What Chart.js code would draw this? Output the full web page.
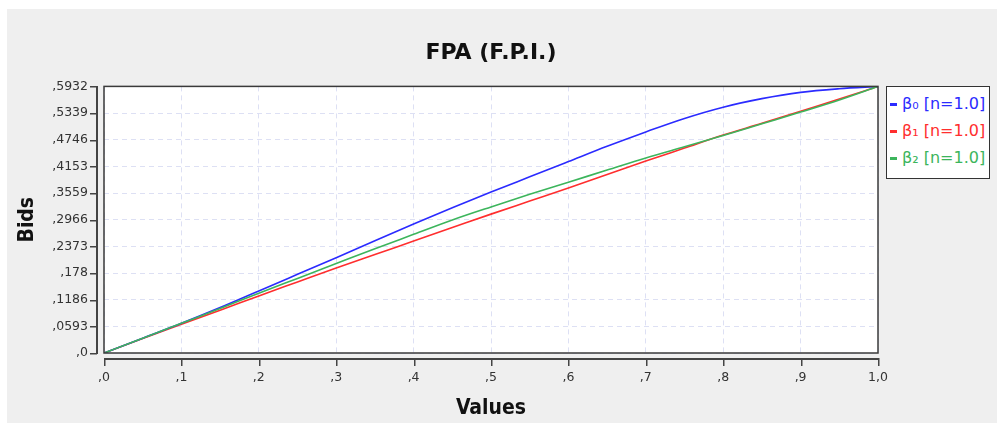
<!DOCTYPE html>
<html>
<head>
<meta charset="utf-8">
<title>FPA (F.P.I.)</title>
<script src="https://cdn.jsdelivr.net/npm/chart.js@4.4.1/dist/chart.umd.min.js"></script>
<style>
  html, body { margin: 0; padding: 0; background: #fff; }
  #wrap { position: relative; width: 997px; height: 423px; overflow: hidden; }
  #bg { position: absolute; left: 7px; top: 9px; right: 0; bottom: 0; background: #efefef; }
  #chart { position: absolute; left: 0; top: 0; }
  #legend {
    position: absolute; left: 886px; top: 86px; width: 102px; height: 88px;
    background: #fff; border: 1.5px solid #333; padding-top: 3px; box-sizing: content-box;
    font-family: "DejaVu Sans", sans-serif; font-size: 16px;
  }
  #legend .item { height: 27px; line-height: 27px; white-space: nowrap; padding-left: 3px; }
  #legend .dash { display: inline-block; width: 7px; height: 3px; vertical-align: middle; margin-right: 5px; }
</style>
</head>
<body>
<div id="wrap">
  <div id="bg"></div>
  <canvas id="chart" width="997" height="423"></canvas>
  <div id="legend"></div>
</div>
<script>
// ---- data ----
const xValues = [0, 0.05, 0.1, 0.15, 0.2, 0.25, 0.3, 0.35, 0.4, 0.45, 0.5,
                 0.55, 0.6, 0.65, 0.7, 0.75, 0.8, 0.85, 0.9, 0.95, 1.0];

const beta0 = [0, 0.033, 0.066, 0.101, 0.138, 0.175, 0.212, 0.25, 0.287, 0.323, 0.358,
               0.392, 0.426, 0.46, 0.492, 0.522, 0.547, 0.566, 0.58, 0.588, 0.5932];
const beta1 = [0, 0.032, 0.064, 0.095, 0.127, 0.158, 0.189, 0.219, 0.249, 0.279, 0.309,
               0.338, 0.367, 0.397, 0.427, 0.456, 0.485, 0.511, 0.538, 0.565, 0.5932];
const beta2 = [0, 0.033, 0.066, 0.099, 0.133, 0.166, 0.199, 0.232, 0.264, 0.296, 0.325,
               0.353, 0.38, 0.407, 0.434, 0.459, 0.484, 0.51, 0.536, 0.563, 0.5932];

const seriesLabels = ["β₀ [n=1.0]", "β₁ [n=1.0]", "β₂ [n=1.0]"];

const xTickValues = [0, 0.1, 0.2, 0.3, 0.4, 0.5, 0.6, 0.7, 0.8, 0.9, 1.0];
const xTickLabels = [",0", ",1", ",2", ",3", ",4", ",5", ",6", ",7", ",8", ",9", "1,0"];
const yTickValues = [0, 0.0593, 0.1186, 0.178, 0.2373, 0.2966, 0.3559, 0.4153, 0.4746, 0.5339, 0.5932];
const yTickLabels = [",0", ",0593", ",1186", ",178", ",2373", ",2966", ",3559", ",4153", ",4746", ",5339", ",5932"];

const COLORS = ["#2b2bff", "#ff2e2e", "#3cb55c"];
const GRID = "#dde0f4";
const AXIS = "#444";

const pairs = ys => xValues.map((x, i) => ({ x, y: ys[i] }));

// white plot background
const plotBgPlugin = {
  id: "plotBg",
  beforeDraw(chart) {
    const { ctx, chartArea: a } = chart;
    ctx.save();
    ctx.fillStyle = "#fff";
    ctx.fillRect(a.left, a.top, a.right - a.left, a.bottom - a.top);
    ctx.restore();
  },
};

// plot frame plus the offset axis lines and tick marks (filled rects, crisp)
const framePlugin = {
  id: "frame",
  afterDraw(chart) {
    const { ctx, chartArea: a } = chart;
    const x = chart.scales.x;
    const y = chart.scales.y;
    ctx.save();
    ctx.setLineDash([]);
    ctx.strokeStyle = "#3a3a3a";
    ctx.lineWidth = 1.5;
    ctx.strokeRect(a.left, a.top, a.right - a.left, a.bottom - a.top);

    ctx.fillStyle = AXIS;
    // y axis
    const ax = Math.round(a.left) - 8;
    const yTop = Math.round(y.getPixelForValue(yTickValues[yTickValues.length - 1]));
    const yBot = Math.round(y.getPixelForValue(yTickValues[0]));
    ctx.fillRect(ax, yTop, 2, yBot - yTop + 1);
    yTickValues.forEach(v => {
      const py = Math.round(y.getPixelForValue(v));
      ctx.fillRect(ax - 6, py, 7, 1.5);
    });
    // x axis
    const ay = Math.round(a.bottom) + 5;
    const xL = Math.round(x.getPixelForValue(xTickValues[0]));
    const xR = Math.round(x.getPixelForValue(xTickValues[xTickValues.length - 1]));
    ctx.fillRect(xL, ay, xR - xL + 1, 2);
    xTickValues.forEach(v => {
      const px = Math.round(x.getPixelForValue(v));
      ctx.fillRect(px, ay, 1.5, 8);
    });
    ctx.restore();
  },
};

const tickFont = { family: "'DejaVu Sans', sans-serif", size: 12.5 };
const axisTitleFont = { family: "'DejaVu Sans Condensed', 'DejaVu Sans', sans-serif", size: 21, weight: "bold" };

const chart = new Chart(document.getElementById("chart"), {
  type: "line",
  data: {
    datasets: [
      { label: seriesLabels[0], data: pairs(beta0), borderColor: COLORS[0], order: 1 },
      { label: seriesLabels[1], data: pairs(beta1), borderColor: COLORS[1], order: 2 },
      { label: seriesLabels[2], data: pairs(beta2), borderColor: COLORS[2], order: 0 },
    ],
  },
  options: {
    responsive: false,
    animation: false,
    layout: { padding: { left: 0, right: 119, top: 0, bottom: 0 } },
    elements: {
      point: { radius: 0 },
      line: { borderWidth: 1.6, cubicInterpolationMode: "monotone", fill: false },
    },
    plugins: {
      legend: { display: false },
      tooltip: { enabled: false },
      title: {
        display: true,
        text: "FPA (F.P.I.)",
        fullSize: false,
        color: "#111",
        font: { family: "'DejaVu Sans', sans-serif", size: 22, weight: "bold" },
        padding: { top: 40, bottom: 20 },
      },
    },
    scales: {
      x: {
        type: "linear",
        min: 0,
        max: 1,
        afterBuildTicks: s => { s.ticks = xTickValues.map(v => ({ value: v })); },
        afterFit: s => { s.height = 70; },
        ticks: {
          callback: (v, i) => xTickLabels[i],
          color: "#333",
          font: tickFont,
          padding: 17,
          maxRotation: 0,
          autoSkip: false,
        },
        grid: { color: GRID, lineWidth: 1, drawTicks: false },
        border: { display: false, dash: [5, 4] },
        title: {
          display: true,
          text: "Values",
          color: "#111",
          font: axisTitleFont,
          padding: { top: 0, bottom: 2 },
        },
      },
      y: {
        type: "linear",
        min: 0,
        max: 0.5932,
        afterBuildTicks: s => { s.ticks = yTickValues.map(v => ({ value: v })); },
        afterFit: s => { s.width = 104; },
        ticks: {
          callback: (v, i) => yTickLabels[i],
          color: "#333",
          font: tickFont,
          padding: 16,
          autoSkip: false,
        },
        grid: { color: GRID, lineWidth: 1, drawTicks: false },
        border: { display: false, dash: [5, 4] },
        title: {
          display: true,
          text: "Bids",
          color: "#111",
          font: axisTitleFont,
          padding: { top: 15, bottom: 0 },
        },
      },
    },
  },
  plugins: [plotBgPlugin, framePlugin],
});

// legend box built from the chart's datasets
const legendEl = document.getElementById("legend");
chart.data.datasets.forEach(ds => {
  const row = document.createElement("div");
  row.className = "item";
  row.style.color = ds.borderColor;
  const dash = document.createElement("span");
  dash.className = "dash";
  dash.style.background = ds.borderColor;
  row.appendChild(dash);
  row.appendChild(document.createTextNode(ds.label));
  legendEl.appendChild(row);
});
</script>
</body>
</html>
